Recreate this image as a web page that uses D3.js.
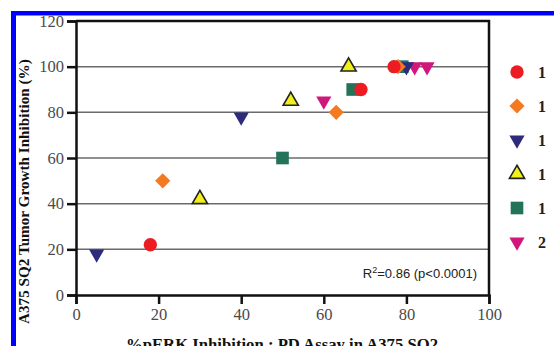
<!DOCTYPE html>
<html>
<head>
<script src="https://d3js.org/d3.v7.min.js"></script>
<style>
  body { margin: 0; background: white; }
  svg { display: block; }
</style>
</head>
<body>
<div id="chart"></div>
<script>
// legend labels as far as they can be read (cut at the right edge)
const seriesNames = ["1", "1", "1", "1", "1", "2"];
const seriesColors = ["#ec1c24", "#f47920", "#2e2a7c", "#f2f01a", "#23735a", "#d1177c"];
const seriesShapes = ["circle", "diamond", "down", "up", "square", "down"];
// [pERK inhibition %, tumor growth inhibition %]
const s1 = [[18, 22], [69, 90], [77, 100]];
const s2 = [[21, 50], [63, 80], [78, 100]];
const s3 = [[5, 18], [40, 78], [80, 100]];
const s4 = [[30, 42], [52, 85], [66, 100]];
const s5 = [[50, 60], [67, 90], [79, 100]];
const s6 = [[60, 85], [82, 100], [85, 100]];
const seriesData = [s1, s2, s3, s4, s5, s6];
const xTicks = [0, 20, 40, 60, 80, 100];
const yTicks = [0, 20, 40, 60, 80, 100, 120];

const w = 554, h = 346;
const plotL = 76, plotR = 489, plotT = 21, plotB = 295;

const x = d3.scaleLinear().domain([0, 100]).range([plotL, plotR]);
const y = d3.scaleLinear().domain([0, 120]).range([plotB, plotT]);

const svg = d3.select("#chart").append("svg")
    .attr("width", w).attr("height", h);

// gridlines
svg.append("g").selectAll("line")
    .data(yTicks.filter(t => t > 0 && t < 120))
    .join("line")
    .attr("x1", plotL).attr("x2", plotR)
    .attr("y1", d => y(d)).attr("y2", d => y(d))
    .attr("stroke", "#6b6b6b").attr("stroke-width", 1.5);

// frame top/right
svg.append("path")
    .attr("d", `M${plotL},${plotT}H${plotR}V${plotB}`)
    .attr("fill", "none").attr("stroke", "#111").attr("stroke-width", 2.5);

// axes
const xAxis = svg.append("g")
    .attr("transform", `translate(0,${plotB})`)
    .call(d3.axisBottom(x).tickValues(xTicks).tickSize(9).tickPadding(4));
const yAxis = svg.append("g")
    .attr("transform", `translate(${plotL},0)`)
    .call(d3.axisLeft(y).tickValues(yTicks).tickSize(9).tickPadding(3));
[xAxis, yAxis].forEach(a => {
  a.select(".domain").attr("stroke", "#111").attr("stroke-width", 2.5);
  a.selectAll(".tick line").attr("stroke", "#111").attr("stroke-width", 2.5);
  a.selectAll(".tick text")
    .attr("font-family", "Liberation Serif, serif")
    .attr("font-size", 16.5).attr("fill", "#4a4a4a");
});

function symbolPath(shape) {
  if (shape === "circle") return d3.symbol(d3.symbolCircle, 140)();
  if (shape === "square") return d3.symbol(d3.symbolSquare, 160)();
  if (shape === "diamond") return d3.symbol(d3.symbolSquare, 115)();
  return d3.symbol(d3.symbolTriangle, 100)();
}
function symbolRotate(shape) {
  if (shape === "diamond") return 45;
  if (shape === "down") return 180;
  return 0;
}

function drawMarker(g, i, px, py) {
  const shape = seriesShapes[i];
  g.append("path")
    .attr("d", symbolPath(shape))
    .attr("transform", `translate(${px},${py}) rotate(${symbolRotate(shape)})`)
    .attr("fill", seriesColors[i])
    .attr("stroke", shape === "up" ? "#222" : "none")
    .attr("stroke-width", 1.6);
}

// points: draw last series first so red sits on top
const pts = svg.append("g");
for (let i = seriesData.length - 1; i >= 0; i--) {
  seriesData[i].forEach(d => drawMarker(pts, i, x(d[0]), y(d[1])));
}

// R2 note
svg.append("text")
    .attr("x", 477).attr("y", 278)
    .attr("text-anchor", "end")
    .attr("font-family", "Liberation Sans, Arial, sans-serif")
    .attr("font-size", 13).attr("fill", "#222")
    .html('R<tspan dy="-5" font-size="9">2</tspan><tspan dy="5">=0.86 (p&lt;0.0001)</tspan>');

// legend
const leg = svg.append("g");
seriesNames.forEach((name, i) => {
  const ly = 72 + i * 34;
  drawMarker(leg, i, 517, ly);
  leg.append("text")
    .attr("x", 538).attr("y", ly + 6)
    .attr("font-family", "Liberation Serif, serif")
    .attr("font-weight", "bold").attr("font-size", 16).attr("fill", "#222")
    .text(name);
});

// axis titles
svg.append("text")
    .attr("x", 126).attr("y", 350)
    .attr("font-family", "Liberation Serif, serif")
    .attr("font-weight", "bold").attr("font-size", 16.7).attr("fill", "#111")
    .text("%pERK Inhibition : PD Assay in A375 SQ2");

svg.append("text")
    .attr("transform", "translate(29,324) rotate(-90)")
    .attr("font-family", "Liberation Serif, serif")
    .attr("font-weight", "bold").attr("font-size", 15.2).attr("fill", "#111")
    .text("A375 SQ2 Tumor Growth Inhibition (%)");

// blue crop frame
svg.append("rect").attr("x", 11).attr("y", 11).attr("width", w - 11).attr("height", 4.5).attr("fill", "#0000ff");
svg.append("rect").attr("x", 11).attr("y", 11).attr("width", 5).attr("height", h - 11).attr("fill", "#0000ff");
</script>
</body>
</html>
